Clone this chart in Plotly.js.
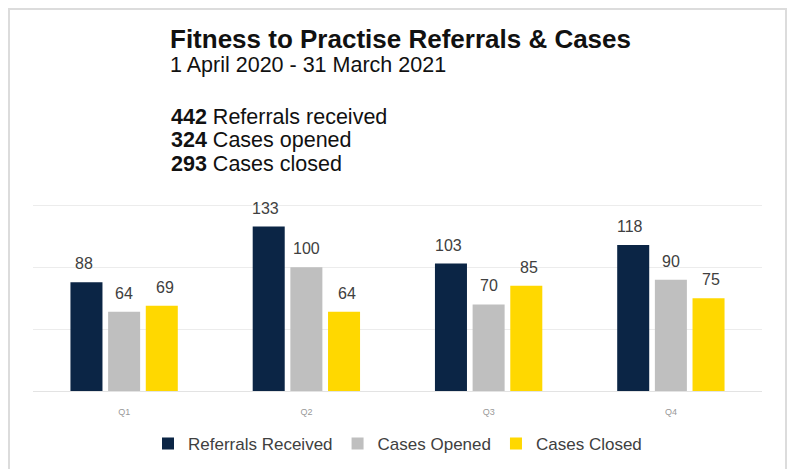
<!DOCTYPE html>
<html>
<head>
<meta charset="utf-8">
<script src="https://cdn.plot.ly/plotly-3.0.1.min.js"></script>
<style>html,body{margin:0;padding:0;background:#fff;}#chart{width:793px;height:469px;}</style>
</head>
<body>
<div id="chart"></div>
<script>
const quarters = ["Q1", "Q2", "Q3", "Q4"];
const seriesNames = ["Referrals Received", "Cases Opened", "Cases Closed"];
const referralsReceived = [88, 133, 103, 118];
const casesOpened = [64, 100, 70, 90];
const casesClosed = [69, 64, 85, 75];
const titleText = "Fitness to Practise Referrals & Cases";
const subtitleText = "1 April 2020 - 31 March 2021";
const summaryLabels = ["Referrals received", "Cases opened", "Cases closed"];

const colors = ["#0B2545", "#BFBFBF", "#FFD800"];
const seriesValues = [referralsReceived, casesOpened, casesClosed];
const FONT = "Liberation Sans, Arial, sans-serif";

const traces = seriesValues.map((vals, i) => ({
  type: "bar",
  name: seriesNames[i],
  x: quarters,
  y: vals,
  marker: {color: colors[i]}
}));

const sum = a => a.reduce((s, v) => s + v, 0);
const totals = seriesValues.map(sum);

const L = 33, R = 762, T = 202.5, B = 391;
const px = x => (x - L) / (R - L);
const py = y => (B - y) / (B - T);

const annotations = [
  {text: "<span style='font-size:26px'><b>" + titleText + "</b></span><br><span style='font-size:21.5px'>" + subtitleText + "</span>",
   x: px(168), y: py(49.5), xanchor: "left", yanchor: "middle", align: "left",
   font: {family: FONT, size: 18.5, color: "#111"}},
  {text: summaryLabels.map((lab, i) => "<span style='font-size:21.5px'><b>" + totals[i] + "</b> " + lab + "</span>").join("<br>"),
   x: px(169), y: py(139.5), xanchor: "left", yanchor: "middle", align: "left",
   font: {family: FONT, size: 18, color: "#111"}}
];
annotations.forEach(a => { a.xref = "paper"; a.yref = "paper"; a.showarrow = false; });

// value labels above the bars, positioned through the data axes
const groupStep = 40.5;
seriesValues.forEach((vals, i) => {
  vals.forEach((v, j) => {
    annotations.push({text: String(v), x: quarters[j], y: v, xref: "x", yref: "y",
      xshift: (i - 1) * groupStep, yshift: 8, yanchor: "bottom", showarrow: false,
      font: {family: FONT, size: 16, color: "#404040"}});
  });
});

const layout = {
  width: 793, height: 469,
  margin: {l: L, r: 793 - R, t: T, b: 469 - B, autoexpand: false},
  paper_bgcolor: "#fff", plot_bgcolor: "#fff",
  barmode: "group", bargap: 0.38, bargroupgap: 0.15,
  showlegend: true,
  legend: {orientation: "h", x: 0.5, xanchor: "center", y: py(444), yanchor: "middle",
    font: {family: FONT, size: 17, color: "#404040"}, itemwidth: 30, traceorder: "normal"},
  xaxis: {tickfont: {family: FONT, size: 9, color: "#999"}, showline: true, linecolor: "#e3e3e3",
    ticks: "", ticklabelstandoff: 12, fixedrange: true},
  yaxis: {range: [0, 152], tickvals: [0, 50, 100, 150], showticklabels: false, gridcolor: "#ececec", gridwidth: 1,
    zeroline: false, fixedrange: true},
  annotations: annotations,
  shapes: [{type: "rect", xref: "paper", yref: "paper", x0: px(9), x1: px(786), y0: py(480), y1: py(8),
    line: {color: "#dcdcdc", width: 2}, fillcolor: "rgba(0,0,0,0)", layer: "below"}]
};

Plotly.newPlot("chart", traces, layout, {displayModeBar: false, staticPlot: true});
</script>
</body>
</html>
